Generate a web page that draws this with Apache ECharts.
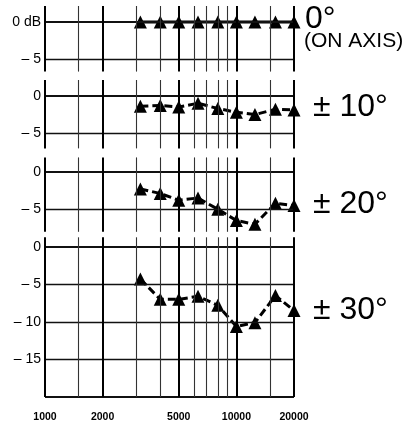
<!DOCTYPE html>
<html>
<head>
<meta charset="utf-8">
<script src="https://cdn.jsdelivr.net/npm/echarts@6/dist/echarts.min.js"></script>
<style>
  html, body { margin: 0; padding: 0; background: #fff; }
  #chart { width: 412px; height: 423px; }
</style>
</head>
<body>
<div id="chart"></div>
<script>
// ---- data ----
const freqs = [3150, 4000, 5000, 6300, 8000, 10000, 12500, 16000, 20000];
const angleLabels = ['0°', '± 10°', '± 20°', '± 30°'];
const onAxis = [0, 0, 0, 0, 0, 0, 0, 0, 0];
const off10 = [-1.4, -1.3, -1.5, -1.0, -1.7, -2.2, -2.5, -1.8, -1.9];
const off20 = [-2.3, -2.9, -3.8, -3.5, -5.0, -6.5, -7.0, -4.2, -4.5];
const off30 = [-4.3, -7.0, -7.0, -6.6, -7.8, -10.6, -10.1, -6.5, -8.5];
const gridFreqs = [1000, 1500, 2000, 3000, 4000, 5000, 6000, 7000, 8000, 9000, 10000, 15000, 20000];
const xTickLabels = [1000, 2000, 5000, 10000, 20000];
const yTicksSmall = [0, -5];
const yTicksLarge = [0, -5, -10, -15];

const seriesValues = [onAxis, off10, off20, off30];

// ---- layout ----
const FONT = '"Liberation Sans", Arial, Helvetica, sans-serif';
const panels = [
  { top: 6.0,   height: 65.6,  min: -6.6, max: 2.13, ticks: yTicksSmall, bottomLine: false, unit: true },
  { top: 80.0,  height: 68.4,  min: -7.0, max: 2.09, ticks: yTicksSmall, bottomLine: false },
  { top: 157.4, height: 74.4,  min: -8.0, max: 1.9,  ticks: yTicksSmall, bottomLine: false },
  { top: 237.3, height: 159.8, min: -20,  max: 1.25, ticks: yTicksLarge, bottomLine: true, xLabels: true }
];
const angleTextPos = [
  { x: 305, y: 19 },
  { x: 313, y: 107.5 },
  { x: 313, y: 204.5 },
  { x: 313, y: 310.5 }
];

function yLabelText(v, unit) {
  if (v === 0) return unit ? '0 dB' : '0';
  return '\u2013 ' + Math.abs(v);
}

const grid = [], xAxis = [], yAxis = [], series = [];
panels.forEach((p, i) => {
  grid.push({ left: 45, width: 249, top: p.top, height: p.height });
  xAxis.push({ type: 'log', logBase: 10, min: 1000, max: 20000, gridIndex: i, show: false });
  yAxis.push({ type: 'value', min: p.min, max: p.max, gridIndex: i, show: false });

  const mlData = [];
  p.ticks.forEach(v => {
    mlData.push({
      yAxis: v,
      lineStyle: { width: v === 0 ? 2 : 1.4, color: '#111', type: 'solid' },
      label: { show: true, position: 'start', distance: 4, formatter: yLabelText(v, p.unit),
               fontSize: 14, color: '#000', fontFamily: FONT }
    });
  });
  if (p.bottomLine) {
    mlData.push({ yAxis: p.min, lineStyle: { width: 2, color: '#111', type: 'solid' }, label: { show: false } });
  }
  gridFreqs.forEach(f => {
    const major = xTickLabels.indexOf(f) >= 0;
    const item = {
      xAxis: f,
      lineStyle: { width: major ? 2 : 1.1, color: major ? '#000' : '#333', type: 'solid' },
      label: { show: false }
    };
    if (p.xLabels && major) {
      item.label = { show: true, position: 'start', distance: 15, formatter: String(f),
                     fontSize: 10.5, fontWeight: 'bold', color: '#000', fontFamily: FONT };
    }
    mlData.push(item);
  });

  series.push({
    type: 'line', xAxisIndex: i, yAxisIndex: i, data: [], z: 1, silent: true,
    markLine: { symbol: ['none', 'none'], silent: true, animation: false,
                lineStyle: { type: 'solid' }, data: mlData }
  });

  series.push({
    type: 'line', xAxisIndex: i, yAxisIndex: i, z: 3, animation: false,
    data: freqs.map((f, k) => [f, seriesValues[i][k]]),
    symbol: 'triangle', symbolSize: 13,
    itemStyle: { color: '#000' },
    lineStyle: { color: '#000', width: 3, type: i === 0 ? 'solid' : [8, 4] }
  });
});

const graphic = angleLabels.map((t, i) => ({
  type: 'text', left: angleTextPos[i].x, top: angleTextPos[i].y - 16,
  style: { text: t, fontSize: 32, fontFamily: FONT, fill: '#000', textVerticalAlign: 'top' }
}));
graphic.push({
  type: 'text', left: 304, top: 31,
  style: { text: '(ON AXIS)', fontSize: 21, fontFamily: FONT, fill: '#000' }
});

const chart = echarts.init(document.getElementById('chart'), null, { renderer: 'canvas' });
chart.setOption({
  animation: false,
  backgroundColor: '#fff',
  grid, xAxis, yAxis, series, graphic
});
</script>
</body>
</html>
